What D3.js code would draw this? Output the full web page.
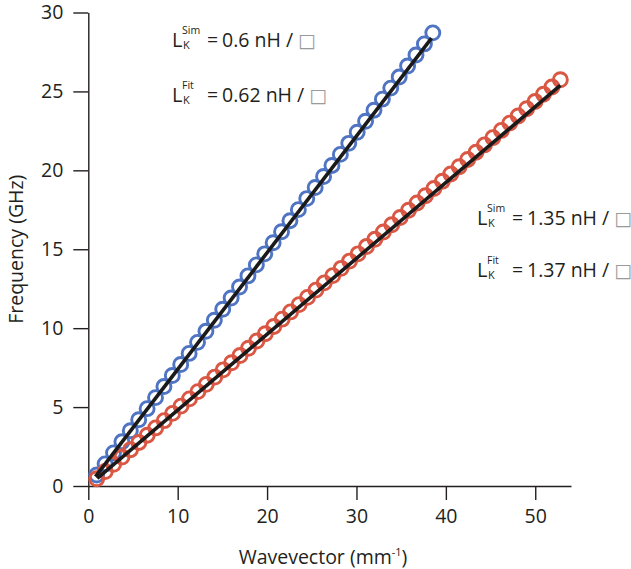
<!DOCTYPE html>
<html>
<head>
<meta charset="utf-8">
<script src="https://cdn.jsdelivr.net/npm/d3@7"></script>
<style>
  html, body { margin: 0; padding: 0; background: #fff; }
  svg { display: block; }
  text { font-family: "Open Sans", "Noto Sans", sans-serif; fill: #231f20; }
</style>
</head>
<body>
<svg id="chart" width="631" height="569"></svg>
<script>
// ---- data ----
const blueK = [0.94, 1.88, 2.82, 3.76, 4.70, 5.64, 6.58, 7.52, 8.46, 9.40, 10.34, 11.28, 12.22, 13.16, 14.10, 15.04, 15.98, 16.92, 17.86, 18.80, 19.74, 20.68, 21.62, 22.56, 23.50, 24.44, 25.38, 26.32, 27.26, 28.20, 29.14, 30.08, 31.02, 31.96, 32.90, 33.84, 34.78, 35.72, 36.66, 37.60, 38.54];
const blueF = [0.70, 1.40, 2.10, 2.80, 3.50, 4.20, 4.90, 5.60, 6.30, 7.00, 7.70, 8.40, 9.10, 9.80, 10.50, 11.20, 11.91, 12.61, 13.31, 14.01, 14.71, 15.41, 16.11, 16.81, 17.51, 18.21, 18.91, 19.61, 20.31, 21.01, 21.71, 22.41, 23.11, 23.81, 24.51, 25.21, 25.91, 26.61, 27.31, 28.01, 28.71];
const redK = [0.94, 1.89, 2.83, 3.77, 4.72, 5.66, 6.60, 7.54, 8.49, 9.43, 10.37, 11.32, 12.26, 13.20, 14.15, 15.09, 16.03, 16.97, 17.92, 18.86, 19.80, 20.75, 21.69, 22.63, 23.58, 24.52, 25.46, 26.40, 27.35, 28.29, 29.23, 30.18, 31.12, 32.06, 33.01, 33.95, 34.89, 35.83, 36.78, 37.72, 38.66, 39.61, 40.55, 41.49, 42.44, 43.38, 44.32, 45.26, 46.21, 47.15, 48.09, 49.04, 49.98, 50.92, 51.87, 52.81];
const redF = [0.46, 0.92, 1.38, 1.84, 2.30, 2.76, 3.22, 3.68, 4.14, 4.60, 5.06, 5.52, 5.98, 6.44, 6.90, 7.36, 7.81, 8.27, 8.73, 9.19, 9.65, 10.11, 10.57, 11.03, 11.49, 11.95, 12.41, 12.87, 13.33, 13.79, 14.25, 14.71, 15.17, 15.63, 16.09, 16.55, 17.01, 17.47, 17.93, 18.39, 18.85, 19.31, 19.77, 20.23, 20.69, 21.15, 21.61, 22.07, 22.53, 22.99, 23.44, 23.90, 24.36, 24.82, 25.28, 25.74];
// linear fits (end points)
const blueFitK = [0.8, 38.4];
const blueFitF = [0.59, 28.38];
const redFitK = [1.0, 52.8];
const redFitF = [0.48, 25.38];

const xTicks = [0, 10, 20, 30, 40, 50];
const yTicks = [0, 5, 10, 15, 20, 25, 30];
const xLabel = "Wavevector (mm";
const yLabel = "Frequency (GHz)";

const annotations = [
  { sup: "Sim", value: "0.6 nH / ", color: "blue", row: 0 },
  { sup: "Fit", value: "0.62 nH / ", color: "blue", row: 1 },
  { sup: "Sim", value: "1.35 nH / ", color: "red", row: 0 },
  { sup: "Fit", value: "1.37 nH / ", color: "red", row: 1 }
];

// ---- drawing ----
const svg = d3.select("#chart");
const x = d3.scaleLinear().domain([0, 54]).range([88.3, 571]);
const y = d3.scaleLinear().domain([0, 30]).range([486, 12.5]);

const axisColor = "#231f20";
const fs = 19.5;

const gx = svg.append("g").attr("transform", `translate(0,${y(0)})`)
  .call(d3.axisBottom(x).tickValues(xTicks).tickSize(14).tickSizeOuter(0).tickPadding(9).tickFormat(d3.format("d")));
const gy = svg.append("g").attr("transform", `translate(${x(0)},0)`)
  .call(d3.axisLeft(y).tickValues(yTicks).tickSize(15).tickSizeOuter(0).tickPadding(10).tickFormat(d3.format("d")));
[gx, gy].forEach(g => {
  g.select(".domain").attr("stroke", axisColor).attr("stroke-width", 1.4);
  g.selectAll(".tick line").attr("stroke", axisColor).attr("stroke-width", 1.4);
  g.selectAll(".tick text").attr("font-size", fs).attr("fill", axisColor)
    .attr("font-family", '"Open Sans", sans-serif');
});

// axis titles
const xt = svg.append("text").attr("x", 323).attr("y", 564).attr("text-anchor", "middle").attr("font-size", fs);
xt.append("tspan").text(xLabel);
xt.append("tspan").attr("font-size", 11).attr("dy", -8).text("-1");
xt.append("tspan").attr("dy", 8).text(")");

svg.append("text").attr("transform", `translate(23,${y(15)}) rotate(-90)`)
  .attr("text-anchor", "middle").attr("font-size", fs).text(yLabel);

const colors = { blue: "#4f74c3", red: "#da5744" };

function series(K, F, color) {
  svg.append("g").selectAll("circle").data(K.map((k, i) => [k, F[i]])).join("circle")
    .attr("cx", d => x(d[0])).attr("cy", d => y(d[1])).attr("r", 7)
    .attr("fill", "none").attr("stroke", color).attr("stroke-width", 2.9);
}
series(blueK, blueF, colors.blue);
series(redK, redF, colors.red);

const line = d3.line().x(d => x(d[0])).y(d => y(d[1]));
[[blueFitK, blueFitF], [redFitK, redFitF]].forEach(([K, F]) => {
  svg.append("path").datum(K.map((k, i) => [k, F[i]]))
    .attr("d", line).attr("fill", "none").attr("stroke", "#1a1a1a").attr("stroke-width", 3.6);
});

// annotations
const annoPos = {
  blue: { x: 172, y: [47, 102], eq: 207 },
  red: { x: 477, y: [225, 277], eq: 512 }
};
annotations.forEach(a => {
  const p = annoPos[a.color];
  const by = p.y[a.row];
  const g = svg.append("g");
  g.append("text").attr("x", p.x).attr("y", by).attr("font-size", 20).text("L");
  g.append("text").attr("x", p.x + 10).attr("y", by - 13).attr("font-size", 10.5).text(a.sup);
  g.append("text").attr("x", p.x + 11).attr("y", by + 1.5).attr("font-size", 11).text("K");
  g.append("text").attr("x", p.eq).attr("y", by).attr("font-size", fs).text("=");
  const t = g.append("text").attr("x", p.eq + 15).attr("y", by).attr("font-size", fs);
  t.append("tspan").text(a.value);
  t.append("tspan").attr("fill", "#9a9a9a").attr("font-family", '"DejaVu Sans", sans-serif').attr("font-size", 19).text("\u25A1");
});
</script>
</body>
</html>
